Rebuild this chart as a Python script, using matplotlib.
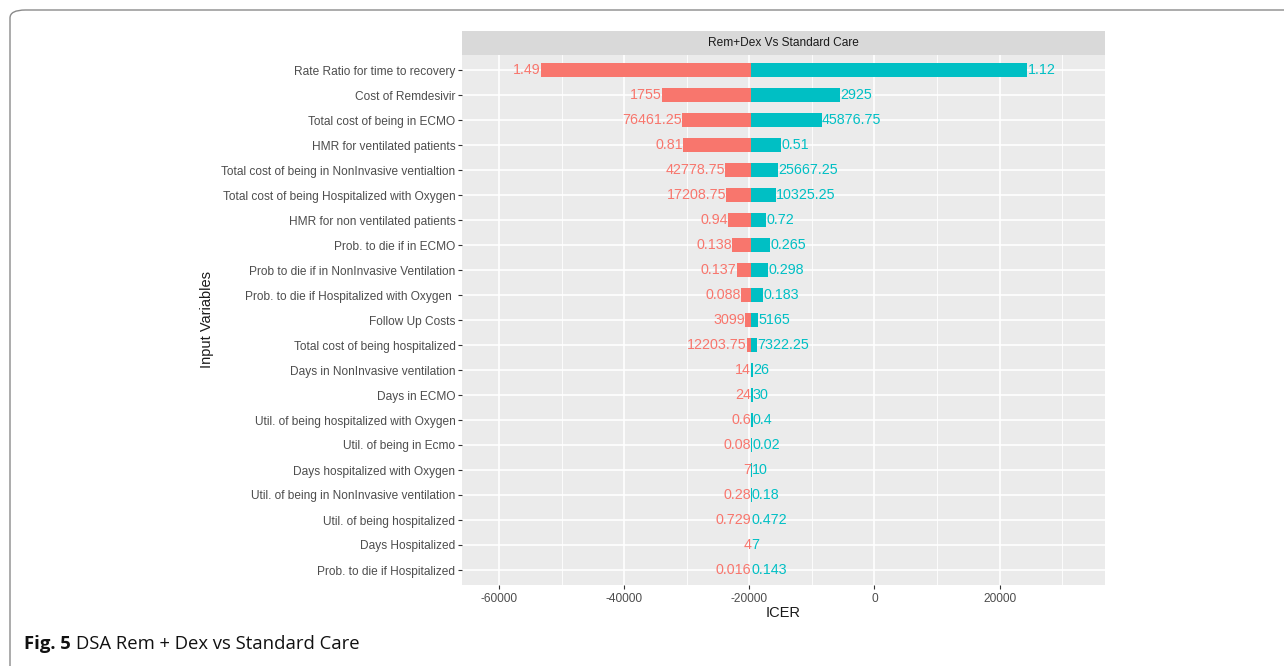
import matplotlib
matplotlib.use("Agg")
import matplotlib.pyplot as plt
from matplotlib.patches import FancyBboxPatch
import numpy as np

variables = [
    "Rate Ratio for time to recovery",
    "Cost of Remdesivir",
    "Total cost of being in ECMO",
    "HMR for ventilated patients",
    "Total cost of being in NonInvasive ventialtion",
    "Total cost of being Hospitalized with Oxygen",
    "HMR for non ventilated patients",
    "Prob. to die if in ECMO",
    "Prob to die if in NonInvasive Ventilation",
    "Prob. to die if Hospitalized with Oxygen ",
    "Follow Up Costs",
    "Total cost of being hospitalized",
    "Days in NonInvasive ventilation",
    "Days in ECMO",
    "Util. of being hospitalized with Oxygen",
    "Util. of being in Ecmo",
    "Days hospitalized with Oxygen",
    "Util. of being in NonInvasive ventilation",
    "Util. of being hospitalized",
    "Days Hospitalized",
    "Prob. to die if Hospitalized",
]
low_labels = ["1.49", "1755", "76461.25", "0.81", "42778.75", "17208.75", "0.94",
              "0.138", "0.137", "0.088", "3099", "12203.75", "14", "24", "0.6",
              "0.08", "7", "0.28", "0.729", "4", "0.016"]
high_labels = ["1.12", "2925", "45876.75", "0.51", "25667.25", "10325.25", "0.72",
               "0.265", "0.298", "0.183", "5165", "7322.25", "26", "30", "0.4",
               "0.02", "10", "0.18", "0.472", "7", "0.143"]
base_icer = -19650
low_icer = [-53300, -33950, -30720, -30560, -23850, -23690, -23370, -22730, -22010,
            -21290, -20650, -20420, -19680, -19680, -19670, -19665, -19655, -19655,
            -19652, -19651, -19651]
high_icer = [24450, -5490, -8360, -14900, -15380, -15700, -17300, -16660, -16980,
             -17780, -18580, -18740, -19400, -19420, -19450, -19480, -19630, -19635,
             -19640, -19645, -19648]

RED = "#F8766D"
TEAL = "#00BFC4"
W, H = 1284, 666
fig = plt.figure(figsize=(W / 100, H / 100), dpi=100)
plt.rcParams['font.family'] = ['Liberation Sans', 'DejaVu Sans']

# frame
frame = FancyBboxPatch((10 / W, -0.1), 1.2, (1 - 10 / H) + 0.1,
                       boxstyle="round,pad=0,rounding_size=0.012",
                       transform=fig.transFigure, fill=False,
                       edgecolor="#8a8a8a", linewidth=1.0)
fig.patches.append(frame)

L, R, T, B = 462, 1105, 55, 585
ax = fig.add_axes([L / W, 1 - B / H, (R - L) / W, (B - T) / H])
ax.set_facecolor("#EBEBEB")
n = len(variables)
y = np.arange(n)[::-1]
ax.set_ylim(-0.6, n - 1 + 0.6)
ax.set_xlim(-65900, 36850)

# grid
for xm in [-50000, -30000, -10000, 10000, 30000]:
    ax.axvline(xm, color="white", lw=0.6, zorder=0)
for xM in [-60000, -40000, -20000, 0, 20000]:
    ax.axvline(xM, color="white", lw=1.2, zorder=0)
for yy in y:
    ax.axhline(yy, color="white", lw=1.2, zorder=0)

lo = np.array(low_icer, dtype=float)
hi = np.array(high_icer, dtype=float)
bh = 0.55
ax.barh(y, lo - base_icer, left=base_icer, height=bh, color=RED, zorder=2, lw=0)
ax.barh(y, hi - base_icer, left=base_icer, height=bh, color=TEAL, zorder=2, lw=0)
for yy, xl, xh, tl, th in zip(y, lo, hi, low_labels, high_labels):
    ax.text(xl, yy, tl, color=RED, ha="right", va="center", fontsize=10.3, zorder=3)
    ax.text(xh, yy, th, color=TEAL, ha="left", va="center", fontsize=10.3, zorder=3)

ax.set_yticks(y)
ax.set_yticklabels(variables)
ax.set_xticks([-60000, -40000, -20000, 0, 20000])
ax.set_xticklabels(["-60000", "-40000", "-20000", "0", "20000"])
ax.tick_params(axis="both", colors="#333333", labelcolor="#4D4D4D", labelsize=8.6,
               length=2.75, width=0.8)
ax.tick_params(axis="x", pad=3)
ax.tick_params(axis="y", pad=2)
for s in ax.spines.values():
    s.set_visible(False)
ax.set_xlabel("ICER", fontsize=10.5, color="#1A1A1A", labelpad=1)
ax.set_ylabel("Input Variables", fontsize=10.5, color="#1A1A1A", labelpad=5)

# strip
sax = fig.add_axes([L / W, 1 - T / H, (R - L) / W, 24 / H])
sax.set_facecolor("#D9D9D9")
sax.set_xticks([]); sax.set_yticks([])
for s in sax.spines.values():
    s.set_visible(False)
sax.text(0.5, 0.5, "Rem+Dex Vs Standard Care", ha="center", va="center",
         fontsize=8.6, color="#1A1A1A", transform=sax.transAxes)

# caption
cap_fam = ['Open Sans', 'DejaVu Sans']
t1 = fig.text(24 / W, 1 - 644 / H, "Fig. 5", fontsize=13.3, fontweight="bold",
              family=cap_fam, va="center", ha="left", color="#111111")
fig.canvas.draw()
bb = t1.get_window_extent()
fig.text(bb.x1 / W + 5 / W, 1 - 644 / H, "DSA Rem + Dex vs Standard Care",
         fontsize=13.3, family=cap_fam, va="center", ha="left", color="#111111")

fig.savefig("out.png", dpi=100)
